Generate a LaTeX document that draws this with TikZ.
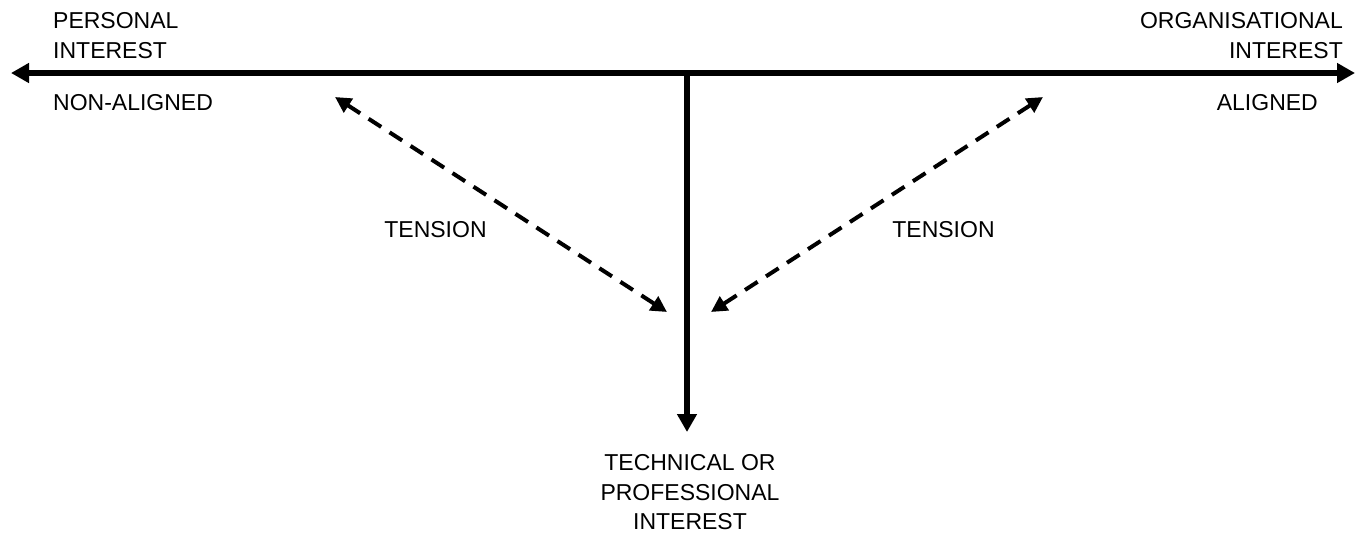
\documentclass[tikz,border=0pt]{standalone}
\usepackage{fontspec}
\setmainfont{Liberation Sans}
\usetikzlibrary{arrows.meta}
\begin{document}
\begin{tikzpicture}[x=1pt,y=-1pt,
  lbl/.style={font=\fontsize{23}{29.5}\selectfont, inner sep=0pt},
  mainline/.style={line width=6pt, -{Triangle[length=18pt,width=19pt]}},
  tens/.style={line width=4pt, dash pattern=on 15pt off 10pt, {Triangle[length=16pt,width=16pt]}-{Triangle[length=16pt,width=16pt]}}]
\useasboundingbox (0,0) rectangle (1356,533);
\coordinate (L) at (11,73);
\coordinate (R) at (1355,73);
\coordinate (M) at (687,73);
\coordinate (B) at (687,432);
\coordinate (TL) at (335,97);
\coordinate (BL) at (667,312);
\coordinate (TR) at (1043,97);
\coordinate (BR) at (711,312);
\draw[mainline] (M) -- (L);
\draw[mainline] (M) -- (R);
\draw[mainline] (M) -- (B);
\draw[tens] (TL) -- (BL);
\draw[tens] (TR) -- (BR);
\node[lbl, anchor=base west, align=left] (pi) at (53,58) {PERSONAL\\INTEREST};
\node[lbl, anchor=base east, align=right] (oi) at (1343,58) {ORGANISATIONAL\\INTEREST};
\node[lbl, anchor=base west] (na) at (53,110) {NON-ALIGNED};
\node[lbl, anchor=base east] (al) at (1318,110) {ALIGNED};
\node[lbl, anchor=base] (t1) at (435.5,237) {TENSION};
\node[lbl, anchor=base] (t2) at (943.5,237) {TENSION};
\node[lbl, anchor=base, align=center] (tp) at (690,529.5) {TECHNICAL OR\\PROFESSIONAL\\INTEREST};
\end{tikzpicture}
\end{document}
